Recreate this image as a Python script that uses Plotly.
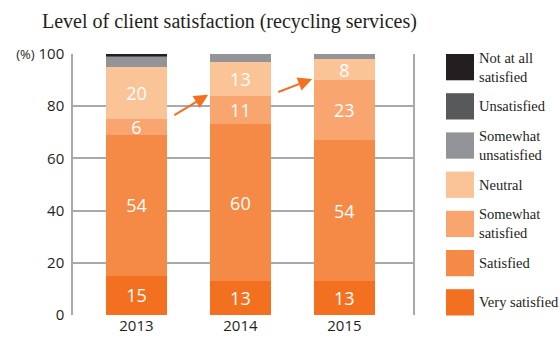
import plotly.graph_objects as go

# Survey years and share of responses (%) per satisfaction level
years = [2013, 2014, 2015]
very_satisfied = [15, 13, 13]
satisfied = [54, 60, 54]
somewhat_satisfied = [6, 11, 23]
neutral = [20, 13, 8]
somewhat_unsatisfied = [4, 3, 2]
unsatisfied = [0.5, 0, 0]
not_at_all_satisfied = [0.5, 0, 0]

y_ticks = [0, 20, 40, 60, 80, 100]
y_ticktext = ["0", "20", "40", "60", "80", "<span style='font-size:13px'>(%)</span> 100"]

series = [
    ("Very satisfied", very_satisfied, "#f37021", True),
    ("Satisfied", satisfied, "#f58a46", True),
    ("Somewhat<br>satisfied", somewhat_satisfied, "#f8a56f", True),
    ("Neutral", neutral, "#fbc497", True),
    ("Somewhat<br>unsatisfied", somewhat_unsatisfied, "#929497", False),
    ("Unsatisfied", unsatisfied, "#58595b", False),
    ("Not at all<br>satisfied", not_at_all_satisfied, "#231f20", False),
]

BAR_W = 0.587
fig = go.Figure()
for name, vals, color, labelled in series:
    fig.add_trace(go.Bar(
        x=years, y=vals, name=name.replace("<br>", " "), width=BAR_W,
        marker=dict(color=color, line=dict(width=0)),
        text=[str(v) for v in vals] if labelled else None,
        textposition="inside" if labelled else "none",
        insidetextanchor="middle", textangle=0, constraintext="none",
        textfont=dict(family="Open Sans", size=18, color="white"),
        hoverinfo="skip",
    ))

# Arrows marking the rise of the neutral band's base from year to year
base_neutral = [v + s + ss for v, s, ss in zip(very_satisfied, satisfied, somewhat_satisfied)]
for i in range(len(years) - 1):
    fig.add_annotation(
        x=years[i] + 0.69, y=base_neutral[i + 1] + 0.4,
        ax=years[i] + 0.35, ay=base_neutral[i] + 1.2,
        xref="x", yref="y", axref="x", ayref="y",
        showarrow=True, arrowhead=2, arrowsize=1.4, arrowwidth=2,
        arrowcolor="#f37021", text="",
    )

# Legend drawn as large swatches on the right
L, R, T, B = 73, 147, 54, 18
W, H = 560, 347
pw, ph = W - L - R, H - T - B


def px_x(px):
    return (px - L) / pw


def px_y(py):
    return (H - B - py) / ph


for k, (name, vals, color, _) in enumerate(reversed(series)):
    top = 54 + k * 41.3
    fig.add_shape(type="rect", xref="paper", yref="paper",
                  x0=px_x(446), x1=px_x(474), y0=px_y(top), y1=px_y(top + 27.7),
                  fillcolor=color, line=dict(width=0), layer="above")
    fig.add_annotation(xref="paper", yref="paper", x=px_x(477), y=px_y(top + 13.8),
                       xanchor="left", yanchor="middle", align="left", showarrow=False,
                       text=name, font=dict(family="Liberation Serif", size=14.5, color="#231f20"))

fig.add_annotation(xref="paper", yref="paper", x=px_x(40), y=px_y(20),
                   xanchor="left", yanchor="middle", showarrow=False,
                   text="Level of client satisfaction (recycling services)",
                   font=dict(family="Liberation Serif", size=20, color="#231f20"))

fig.update_layout(
    width=W, height=H, barmode="stack", showlegend=False,
    margin=dict(l=L, r=R, t=T, b=B, pad=0),
    paper_bgcolor="white", plot_bgcolor="white",
    uniformtext=dict(minsize=18, mode="show"),
    xaxis=dict(range=[2012.39, 2015.66], tickvals=years, ticktext=[str(y) for y in years],
               showgrid=False, zeroline=False, showline=False, ticks="",
               tickfont=dict(family="Open Sans", size=15, color="#231f20")),
    yaxis=dict(range=[0, 100], tickvals=y_ticks, ticktext=y_ticktext,
               showgrid=True, gridcolor="#a7a9ac", gridwidth=1.5, zeroline=False,
               showline=True, linecolor="#a7a9ac", linewidth=1.5, mirror=True, ticks="",
               ticklabelstandoff=4,
               tickfont=dict(family="Open Sans", size=15, color="#231f20")),
)

fig.write_html("out.html")
